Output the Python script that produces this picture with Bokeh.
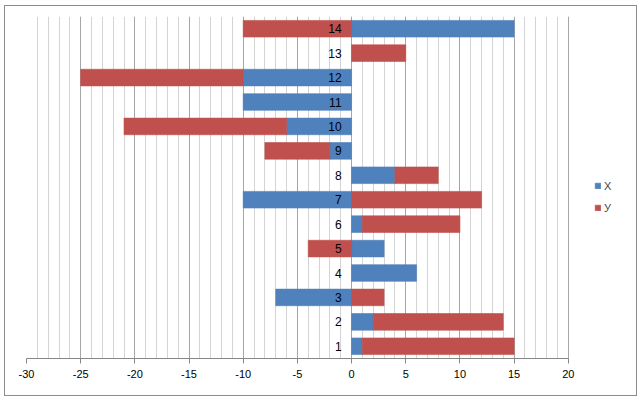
from bokeh.plotting import figure
from bokeh.models import FixedTicker, Legend, LegendItem, ColumnDataSource, Range1d
from bokeh.embed import file_html
from bokeh.resources import INLINE
from bokeh.core.properties import value

categories = list(range(1, 15))
x_vals = [1, 2, -7, 6, 3, 1, -10, 4, -2, -6, -10, -10, 0, 15]
y_vals = [14, 12, 3, 0, -4, 9, 12, 4, -6, -15, 0, -15, 5, -10]
x_ticks = list(range(-30, 21, 5))
x_minor = list(range(-30, 21))
series_names = ["X", "У"]
colors = ["#4F81BD", "#C0504D"]

FONT = "Liberation Sans"

def stack(series_list):
    n = len(categories)
    pos = [0] * n
    neg = [0] * n
    out = []
    for s in series_list:
        ys, left, right = [], [], []
        for i, v in enumerate(s):
            if v == 0:
                continue
            ys.append(categories[i])
            if v > 0:
                left.append(pos[i]); pos[i] += v; right.append(pos[i])
            else:
                right.append(neg[i]); neg[i] += v; left.append(neg[i])
        out.append((ys, left, right))
    return out

p = figure(width=633, height=391, output_backend="svg", toolbar_location=None,
           x_range=Range1d(-30, 26.48), y_range=Range1d(0.5, 14.5),
           min_border_left=21, min_border_right=0, min_border_top=10, min_border_bottom=39)
p.outline_line_color = None
p.styles = {"border": "1px solid #8c8c8c", "box-sizing": "border-box",
            "margin-left": "4px", "margin-top": "5px"}

items = []
for (ys, left, right), name, c in zip(stack([x_vals, y_vals]), series_names, colors):
    src = ColumnDataSource(dict(y=ys, left=left, right=right))
    r = p.hbar(y="y", left="left", right="right", height=0.68, source=src,
               fill_color=c, line_color=c, line_alpha=0.6)
    items.append(LegendItem(label=name, renderers=[r]))

lab_src = ColumnDataSource(dict(x=[0] * len(categories), y=categories, t=[str(c) for c in categories]))
p.text(x="x", y="y", text="t", source=lab_src, x_offset=-10, text_align="right",
       text_baseline="middle", text_font=value(FONT), text_font_size="12px", text_color="#000000")

p.yaxis.visible = False
p.ygrid.visible = False
p.xaxis.ticker = FixedTicker(ticks=x_ticks, minor_ticks=x_minor)
p.xaxis.major_label_overrides = {t: str(t) for t in x_ticks}
p.xaxis.bounds = (x_ticks[0], x_ticks[-1])
p.xgrid.ticker = FixedTicker(ticks=x_ticks, minor_ticks=x_minor)
p.xgrid.grid_line_color = "#a6a6a6"
p.xgrid.minor_grid_line_color = "#d4d4d4"
p.xgrid.level = "underlay"
p.xaxis.axis_line_color = "#868686"
p.xaxis.major_tick_line_color = "#868686"
p.xaxis.major_tick_out = 5
p.xaxis.major_tick_in = 0
p.xaxis.minor_tick_line_color = None
p.xaxis.major_label_text_font = FONT
p.xaxis.major_label_text_font_size = "11px"
p.xaxis.major_label_text_color = "#000000"
p.xaxis.major_label_standoff = 6

legend = Legend(items=items, location=(568, 144), orientation="vertical",
                glyph_width=7, glyph_height=7, label_height=13, spacing=9,
                padding=0, margin=0, border_line_color=None, background_fill_alpha=0,
                label_text_font=FONT, label_text_font_size="11px", label_standoff=3)
p.add_layout(legend, "center")

open("out.html", "w").write(file_html(p, INLINE))
